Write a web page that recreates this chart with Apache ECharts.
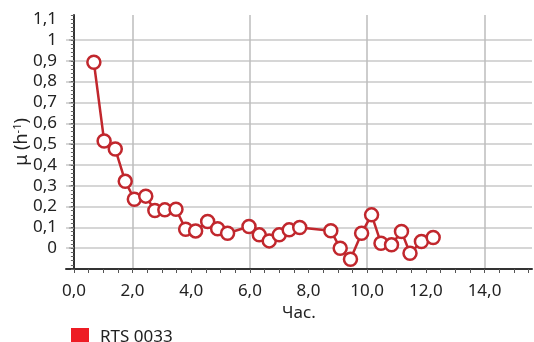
<!DOCTYPE html>
<html>
<head>
<meta charset="utf-8">
<script src="https://cdn.jsdelivr.net/npm/echarts@6/dist/echarts.min.js"></script>
<style>
  html, body { margin: 0; padding: 0; background: #fff; }
  #chart { width: 534px; height: 342px; }
</style>
</head>
<body>
<div id="chart"></div>
<script>
// sampling time, h
const hours = [0.68, 1.03, 1.41, 1.75, 2.06, 2.45, 2.76, 3.10, 3.48, 3.81, 4.15, 4.56, 4.90, 5.24,
  5.97, 6.32, 6.66, 7.00, 7.34, 7.70,
  8.76, 9.08, 9.43, 9.81, 10.15, 10.47, 10.83, 11.17, 11.46, 11.85, 12.25];
// specific growth rate, 1/h
const mu = [0.893, 0.515, 0.476, 0.321, 0.235, 0.25, 0.181, 0.184, 0.187, 0.091, 0.083, 0.128, 0.093, 0.072,
  0.104, 0.064, 0.035, 0.064, 0.088, 0.099,
  0.084, 0.0, -0.053, 0.072, 0.16, 0.024, 0.016, 0.08, -0.024, 0.032, 0.051];

const seriesName = 'RTS 0033';
const yTitle = 'μ (h{sup|-1})';
const xLabelValues = [0, 2, 4, 6, 8, 10, 12, 14];
const xGridValues = [2, 6, 10, 14];
const xTickValues = [0, 0.5, 1, 1.5, 2, 2.5, 3, 3.5, 4, 4.5, 5, 5.5, 6, 6.5, 7, 7.5,
  8, 8.5, 9, 9.5, 10, 10.5, 11, 11.5, 12, 12.5, 13, 13.5, 14, 14.5, 15, 15.5];
const yLabelValues = [0, 0.1, 0.2, 0.3, 0.4, 0.5, 0.6, 0.7, 0.8, 0.9, 1, 1.1];
const yGridValues = [0, 0.1, 0.2, 0.3, 0.4, 0.5, 0.6, 0.7, 0.8, 0.9, 1];
const yMinorValues = [-0.1, -0.08, -0.06, -0.04, -0.02, 0, 0.02, 0.04, 0.06, 0.08,
  0.1, 0.12, 0.14, 0.16, 0.18, 0.2, 0.22, 0.24, 0.26, 0.28,
  0.3, 0.32, 0.34, 0.36, 0.38, 0.4, 0.42, 0.44, 0.46, 0.48,
  0.5, 0.52, 0.54, 0.56, 0.58, 0.6, 0.62, 0.64, 0.66, 0.68,
  0.7, 0.72, 0.74, 0.76, 0.78, 0.8, 0.82, 0.84, 0.86, 0.88,
  0.9, 0.92, 0.94, 0.96, 0.98, 1, 1.02, 1.04, 1.06, 1.08, 1.1, 1.12];

const red = '#c1272d';
const font = '"Noto Sans", sans-serif';
const xRange = { min: -0.27, max: 15.62 };
const yRange = { min: -0.1, max: 1.12 };

const commaNum = (v) => String(+v.toFixed(2)).replace('.', ',');

const chart = echarts.init(document.getElementById('chart'), null, { renderer: 'canvas' });

chart.setOption({
  animation: false,
  textStyle: { fontFamily: font },
  grid: { left: 66, right: 2, top: 15, bottom: 73, containLabel: false, outerBoundsMode: 'none' },
  // rotated y title (axis name gets pushed off the canvas in this layout)
  graphic: [{
    type: 'text',
    x: 22,
    y: 142,
    rotation: Math.PI / 2,
    style: {
      text: yTitle,
      fontFamily: font,
      fontSize: 18,
      fill: '#222',
      align: 'center',
      verticalAlign: 'middle',
      rich: { sup: { fontFamily: font, fontSize: 11, fill: '#222', verticalAlign: 'top', padding: [0, 0, 8, 0] } }
    }
  }],
  legend: {
    left: 66,
    top: 323,
    itemWidth: 18,
    itemHeight: 18,
    textStyle: { fontFamily: font, fontSize: 17, color: '#222', padding: [0, 0, 0, 6] },
    data: [{ name: seriesName, icon: 'rect', itemStyle: { color: '#ed1c24', borderWidth: 0 } }]
  },
  xAxis: [{
    type: 'value',
    ...xRange,
    name: 'Час.',
    nameLocation: 'middle',
    nameGap: 34,
    nameTextStyle: { fontFamily: font, fontSize: 17, color: '#222' },
    axisLine: { show: true, onZero: false, lineStyle: { color: '#333', width: 2 } },
    axisTick: { show: true, length: 4, customValues: xTickValues, lineStyle: { color: '#555', width: 1 } },
    axisLabel: {
      customValues: xLabelValues,
      margin: 14,
      fontSize: 17,
      color: '#222',
      formatter: (v) => v.toFixed(1).replace('.', ',')
    },
    splitLine: { show: false }
  }, {
    type: 'value',
    ...xRange,
    position: 'bottom',
    axisLine: { show: false, onZero: false },
    axisTick: { show: false, customValues: xGridValues },
    axisLabel: { show: false },
    splitLine: { show: true, lineStyle: { color: '#bdbdbd', width: 1.5 } }
  }],
  yAxis: [{
    type: 'value',
    ...yRange,
    axisLine: { show: true, onZero: true, onZeroAxisIndex: 0, lineStyle: { color: '#333', width: 2 } },
    axisTick: { show: true, length: 5, customValues: yGridValues, lineStyle: { color: '#aaa', width: 1.5 } },
    axisLabel: {
      customValues: yLabelValues,
      margin: 9,
      fontSize: 17,
      color: '#222',
      formatter: commaNum
    },
    splitLine: { show: true, lineStyle: { color: '#c8c8c8', width: 1.5 } }
  }, {
    type: 'value',
    ...yRange,
    position: 'left',
    axisLine: { show: false, onZero: true, onZeroAxisIndex: 0 },
    axisTick: { show: true, length: 3, customValues: yMinorValues, lineStyle: { color: '#666', width: 1 } },
    axisLabel: { show: false },
    splitLine: { show: false }
  }],
  series: [{
    name: seriesName,
    type: 'line',
    xAxisIndex: 0,
    yAxisIndex: 0,
    data: hours.map((h, i) => [h, mu[i]]),
    symbol: 'circle',
    symbolSize: 13,
    lineStyle: { color: red, width: 2.5 },
    itemStyle: { color: '#fff', borderColor: red, borderWidth: 2.5 },
    z: 5
  }]
});
</script>
</body>
</html>
